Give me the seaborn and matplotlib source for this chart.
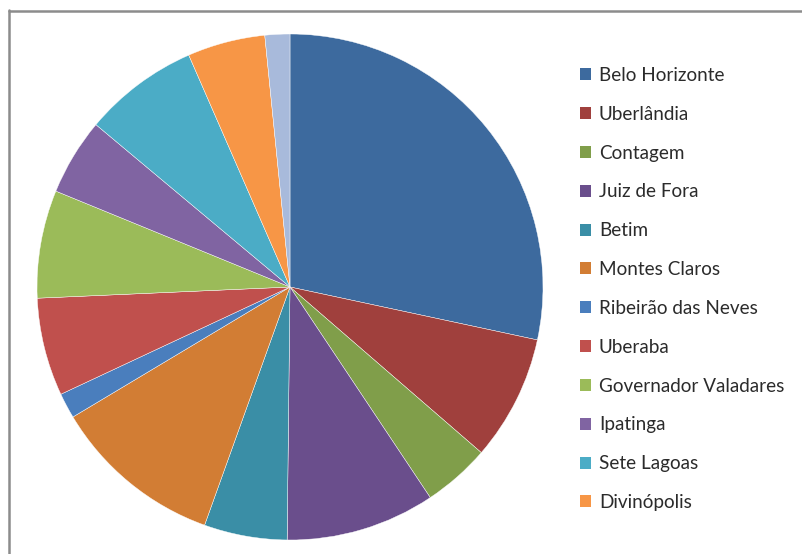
import matplotlib
matplotlib.use("Agg")
import matplotlib.pyplot as plt
from matplotlib.lines import Line2D
from matplotlib.patches import Patch
import seaborn as sns

# City shares (percent of total)
cities = [
    "Belo Horizonte", "Uberlândia", "Contagem", "Juiz de Fora", "Betim",
    "Montes Claros", "Ribeirão das Neves", "Uberaba", "Governador Valadares",
    "Ipatinga", "Sete Lagoas", "Divinópolis", "Outras",
]
shares = [28.35, 8.0, 4.29, 9.53, 5.3, 10.93, 1.62, 6.26, 6.89, 4.9, 7.36, 4.96, 1.59]
legend_count = 12

slice_colors = [
    "#3D6A9E", "#A0403D", "#809E4A", "#6A4E8C", "#3A8EA6", "#D27D34",
    "#4A7EBD", "#C0504D", "#9BBB59", "#8064A2", "#4BACC6", "#F79646",
    "#A8BADB",
]

sns.set_theme(style="white")
plt.rcParams["font.family"] = ["Lato", "DejaVu Sans"]
palette = sns.color_palette(slice_colors)

W, H = 802, 554
fig = plt.figure(figsize=(W / 100, H / 100), dpi=100)
fig.patch.set_facecolor("white")

cx, cy, r = 290, 287, 253
ax = fig.add_axes([(cx - r) / W, (H - cy - r) / H, 2 * r / W, 2 * r / H])
wedges, _ = ax.pie(
    shares, colors=palette, startangle=90, counterclock=False,
    radius=1.0, wedgeprops=dict(edgecolor="white", linewidth=0.3),
)
ax.set_xlim(-1, 1)
ax.set_ylim(-1, 1)
ax.set_aspect("equal")
ax.axis("off")

# Chart frame (top and left edges)
fig.add_artist(Line2D([8.5 / W, 8.5 / W], [0, 1 - 10 / H], transform=fig.transFigure,
                      color="#8c8c8c", lw=1.8))
fig.add_artist(Line2D([8.5 / W, 1], [1 - 10.5 / H, 1 - 10.5 / H], transform=fig.transFigure,
                      color="#8c8c8c", lw=1.8))

handles = [Patch(facecolor=palette[i], edgecolor="none") for i in range(legend_count)]
fig.legend(
    handles, cities[:legend_count], loc="upper left",
    bbox_to_anchor=(563 / W, 1 - 50 / H), frameon=False,
    fontsize=13.6, handlelength=0.6, handleheight=0.6, handletextpad=0.4,
    labelspacing=1.155, labelcolor="#2b2b2b",
)

fig.savefig("out.png", dpi=100, facecolor="white")
